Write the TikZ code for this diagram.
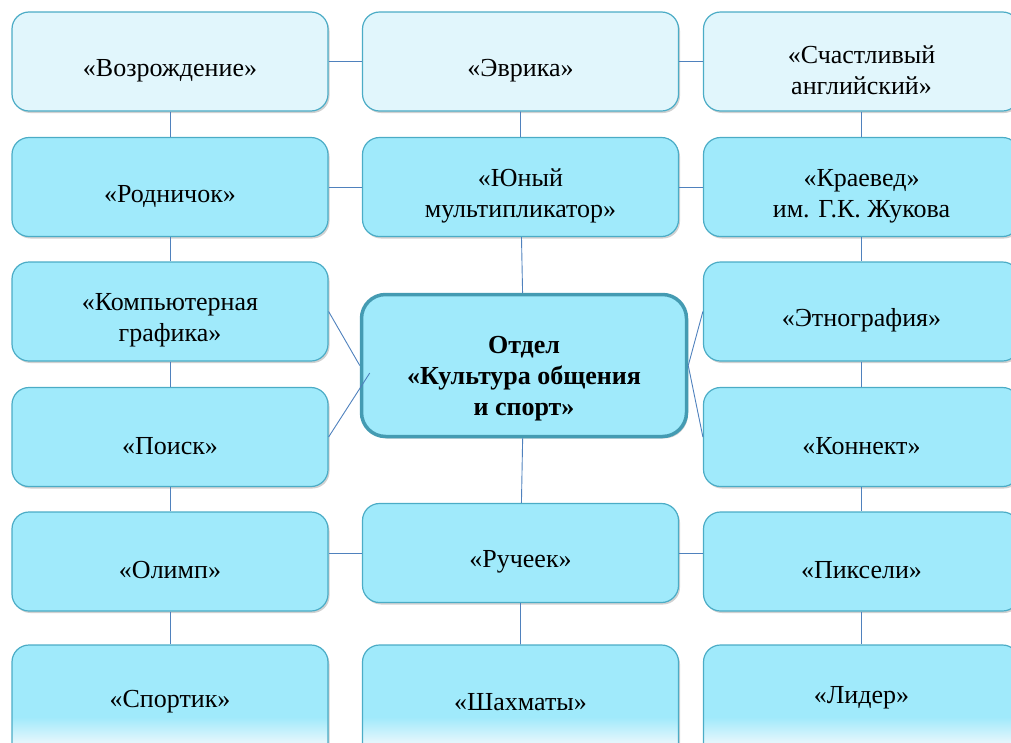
\documentclass[tikz,border=0pt]{standalone}
\usepackage{fontspec}
\setmainfont{Liberation Serif}
\newfontfamily\boxfont{Liberation Serif}
\usetikzlibrary{shadows,calc}

\definecolor{boxfill}{RGB}{160,234,251}
\definecolor{boxlight}{RGB}{225,246,252}
\definecolor{boxline}{RGB}{75,172,198}
\definecolor{edgeline}{RGB}{79,129,189}

\pgfdeclareverticalshading{lowshade}{100bp}{color(0bp)=(white); color(25bp)=(white);
	color(35bp)=(boxlight); color(45bp)=(boxfill); color(100bp)=(boxfill)}

\begin{document}
\begin{tikzpicture}[x=1pt,y=-1pt]

		\clip (0,0) rectangle (1011,742);

		\tikzset{BoxStyle/.style =
				{draw=boxline, line width=1.2pt, fill=boxfill, rounded corners=17pt,
				minimum width=316pt, minimum height=99pt, inner sep=0pt,
				drop shadow={shadow xshift=1.5pt, shadow yshift=-2pt, opacity=0.3, fill=black!60}}
		}
		\tikzset{LowStyle/.style =
				{minimum height=120pt, shading=lowshade}
		}
		\tikzset{MainStyle/.style =
				{BoxStyle, draw=boxline!90!black, line width=3.5pt, rounded corners=24pt,
				minimum width=325pt, minimum height=142pt}
		}
		\tikzset{TextStyle/.style =
				{align=center, inner sep=0pt, yshift=-9pt, font=\boxfont\fontsize{26}{31}\selectfont}
		}
		\tikzstyle{EdgeStyle}=[color=edgeline, line width=0.9pt]

		%top row
		\node[BoxStyle, fill=boxlight, label={[TextStyle]center:«Возрождение»}] (vozr) at (170,61.5) {};
		\node[BoxStyle, fill=boxlight, label={[TextStyle]center:«Эврика»}] (evrika) at (520.5,61.5) {};
		\node[BoxStyle, fill=boxlight, label={[TextStyle]center:{«Счастливый\\английский»}}] (angl) at (861.5,61.5) {};

		%left column
		\node[BoxStyle, label={[TextStyle]center:«Родничок»}] (rodn) at (170,187) {};
		\node[BoxStyle, label={[TextStyle]center:{«Компьютерная\\графика»}}] (komp) at (170,311.5) {};
		\node[BoxStyle, label={[TextStyle]center:«Поиск»}] (poisk) at (170,437) {};
		\node[BoxStyle, label={[TextStyle]center:«Олимп»}] (olimp) at (170,561.5) {};
		\node[BoxStyle, LowStyle, label={[TextStyle, yshift=12pt]center:«Спортик»}] (sport) at (170,705) {};

		%middle column
		\node[BoxStyle, label={[TextStyle]center:{«Юный\\мультипликатор»}}] (multi) at (520.5,187) {};
		\node[MainStyle, label={[TextStyle, yshift=-4pt, font=\boxfont\fontsize{26}{31}\selectfont\bfseries]center:{Отдел\\«Культура общения\\и спорт»}}] (otdel) at (524,365.5) {};
		\node[BoxStyle, label={[TextStyle]center:«Ручеек»}] (ruch) at (520.5,553) {};
		\node[BoxStyle, LowStyle, label={[TextStyle, yshift=12pt]center:«Шахматы»}] (shahm) at (520.5,705) {};

		%right column
		\node[BoxStyle, label={[TextStyle]center:{«Краевед»\\им. Г.К. Жукова}}] (kraev) at (861.5,187) {};
		\node[BoxStyle, label={[TextStyle]center:«Этнография»}] (etno) at (861.5,311.5) {};
		\node[BoxStyle, label={[TextStyle]center:«Коннект»}] (konn) at (861.5,437) {};
		\node[BoxStyle, label={[TextStyle]center:«Пиксели»}] (piks) at (861.5,561.5) {};
		\node[BoxStyle, LowStyle, label={[TextStyle, yshift=16pt]center:«Лидер»}] (lider) at (861.5,705) {};

		%edges
		\draw[EdgeStyle] (vozr) -- (evrika) -- (angl);
		\draw[EdgeStyle] (rodn) -- (multi) -- (kraev);
		\draw[EdgeStyle] (vozr) -- (rodn) -- (komp) -- (poisk) -- (olimp) -- (sport);
		\draw[EdgeStyle] (angl) -- (kraev) -- (etno) -- (konn) -- (piks) -- (lider);
		\draw[EdgeStyle] (evrika) -- (multi) -- (otdel) -- (ruch) -- (shahm);
		\draw[EdgeStyle] (ruch) -- (ruch.west -| olimp.east);
		\draw[EdgeStyle] (ruch) -- (ruch.east -| piks.west);

		%diagonals
		\draw[EdgeStyle] (komp.east) -- (otdel.west);
		\draw[EdgeStyle] (poisk.east) -- ([xshift=10pt,yshift=-7.5pt]otdel.west);
		\draw[EdgeStyle] (otdel.east) -- (etno.west);
		\draw[EdgeStyle] (otdel.east) -- (konn.west);
	\end{tikzpicture}
\end{document}
